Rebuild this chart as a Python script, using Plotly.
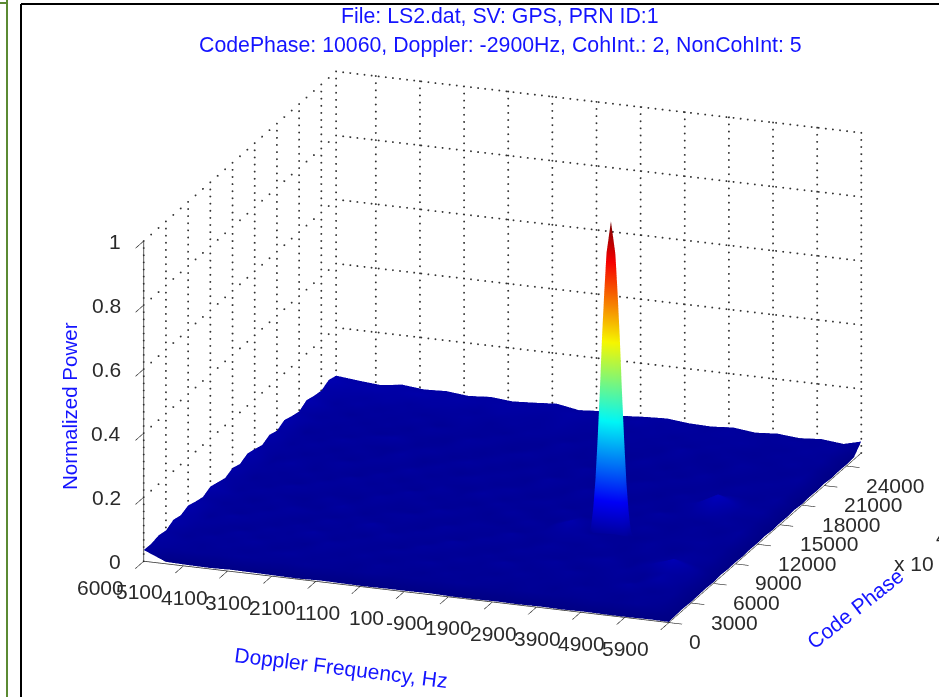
import numpy as np
import plotly.graph_objects as go

doppler_ticks = [6000, 5100, 4100, 3100, 2100, 1100, 100, -900, -1900, -2900, -3900, -4900, -5900]
doppler_labels = ["6000", "5100", "4100", "3100", "2100", "1100", "100", "-900", "1900", "2900", "3900", "4900", "5900"]
code_ticks = [0, 3000, 6000, 9000, 12000, 15000, 18000, 21000, 24000]
power_ticks = [0, 0.2, 0.4, 0.6, 0.8, 1]
power_labels = ["0", "0.2", "0.4", "0.6", "0.8", "1"]

doppler_floor = [6000, 5500, 5000, 4500, 4000, 3500, 3000, 2500, 2000, 1500, 1000, 500, 0,
                 -500, -1000, -1500, -2000, -2500, -3000, -3500, -4000, -4500, -5000, -5500, -5900]
code_floor = [0, 1000, 2000, 3000, 4000, 5000, 6000, 7000, 8000, 9000, 10000, 11000, 12000, 13000,
              14000, 15000, 16000, 17000, 18000, 19000, 20000, 21000, 22000, 23000, 24000, 25000, 26000]
# noise floor, thousandths of normalized power; one row per code_floor value
floor_milli = [
 [35,6,4,3,5,4,3,2,4,3,2,3,3,4,2,2,3,2,3,2,3,2,2,3,2],
 [34,27,25,22,28,24,20,26,21,19,24,18,22,20,25,19,17,23,20,18,22,19,24,17,4],
 [40,30,24,29,22,27,31,23,26,20,28,24,19,27,22,26,21,25,19,28,23,20,26,22,5],
 [35,24,31,26,33,21,25,29,22,30,19,26,31,21,25,20,29,23,27,20,24,36,21,25,3],
 [48,28,22,34,24,29,20,33,27,23,31,25,21,30,24,35,22,26,31,23,28,22,42,24,4],
 [42,33,27,21,31,26,38,22,29,25,20,33,27,23,29,21,27,33,20,26,31,24,38,30,5],
 [52,25,36,29,23,30,24,28,21,34,26,22,36,25,21,31,25,22,29,35,23,37,62,33,3],
 [44,31,23,32,27,21,33,25,39,22,29,27,20,31,27,24,33,26,23,27,21,30,36,22,6],
 [38,26,29,24,35,28,22,30,24,27,21,33,26,23,36,22,28,24,31,22,29,25,31,27,4],
 [50,34,22,31,25,23,37,21,29,33,25,22,30,27,21,29,36,35,26,24,31,21,27,24,5],
 [43,27,33,26,21,32,26,28,23,21,35,27,24,20,33,26,52,22,28,21,26,28,30,22,3],
 [36,30,25,35,29,24,21,34,26,30,22,29,21,34,25,22,37,30,23,33,24,27,26,28,5],
 [47,24,28,22,33,27,30,23,36,24,27,21,32,26,23,34,24,21,29,26,22,29,21,31,4],
 [39,32,26,31,23,35,25,29,21,33,25,36,23,28,31,22,28,33,24,37,27,23,30,24,6],
 [51,28,37,24,28,21,33,22,30,26,22,28,33,21,26,29,23,26,30,22,31,48,27,21,3],
 [45,25,30,27,34,26,23,36,24,28,33,23,25,30,22,36,25,22,27,25,37,72,34,29,5],
 [37,33,24,29,22,31,28,25,32,21,27,30,21,35,27,24,31,28,21,31,26,44,28,25,4],
 [49,27,34,23,30,25,36,21,27,35,24,26,31,22,29,21,26,33,25,23,29,27,22,30,6],
 [41,31,26,36,27,22,29,33,23,26,31,22,28,25,34,27,22,24,30,27,24,31,26,23,3],
 [54,24,29,25,33,38,24,27,30,22,28,34,24,29,21,30,25,28,22,33,21,26,29,25,5],
 [46,35,27,31,23,28,26,22,35,29,21,27,30,23,27,24,33,21,29,24,28,23,25,31,4],
 [40,29,33,26,30,24,34,28,25,31,26,23,35,26,31,22,27,30,25,21,32,26,22,27,6],
 [55,37,25,32,28,35,23,30,27,24,33,29,24,31,25,28,23,36,22,29,26,24,30,23,3],
 [48,31,38,29,34,27,31,36,26,33,29,35,28,24,33,27,30,25,31,26,23,29,26,28,5],
 [44,40,35,41,33,38,36,30,37,34,31,38,30,35,28,33,26,31,28,33,27,25,31,24,4],
 [57,46,49,42,47,41,44,37,43,39,35,41,37,33,39,31,36,29,34,30,28,32,27,33,6],
 [50,43,37,46,39,42,35,40,34,38,43,31,36,29,34,37,30,28,33,25,30,24,29,22,36],
]
# correlation peak at Doppler -2900 Hz, code phase 10060
peak_doppler = [-2400, -2450, -2500, -2550, -2600, -2650, -2700, -2750, -2800, -2850, -2900,
                -2950, -3000, -3050, -3100, -3150, -3200, -3250, -3300, -3350, -3400]
peak_code = [9900, 9980, 10060, 10140, 10220]
peak_power = [
 [0.01,0.01,0.01,0.01,0.01,0.01,0.01,0.01,0.01,0.01,0.01,0.01,0.01,0.01,0.01,0.01,0.01,0.01,0.01,0.01,0.01],
 [0.01,0.02,0.05,0.09,0.16,0.23,0.32,0.39,0.45,0.48,0.50,0.48,0.45,0.39,0.32,0.23,0.16,0.09,0.05,0.02,0.01],
 [0.02,0.04,0.10,0.19,0.32,0.47,0.64,0.78,0.90,0.95,1.00,0.95,0.90,0.78,0.64,0.47,0.32,0.19,0.10,0.04,0.02],
 [0.01,0.02,0.05,0.09,0.16,0.23,0.32,0.39,0.45,0.48,0.50,0.48,0.45,0.39,0.32,0.23,0.16,0.09,0.05,0.02,0.01],
 [0.01,0.01,0.01,0.01,0.01,0.01,0.01,0.01,0.01,0.01,0.01,0.01,0.01,0.01,0.01,0.01,0.01,0.01,0.01,0.01,0.01],
]
jet_scale = [[0, "rgb(0,0,143)"], [0.125, "rgb(0,0,255)"], [0.375, "rgb(0,255,255)"],
             [0.625, "rgb(255,255,0)"], [0.875, "rgb(255,0,0)"], [1, "rgb(128,0,0)"]]
x_lo, x_hi = 6000, -5900
y_lo, y_hi = 0, 26000
z_lo, z_hi = 0, 1
BLUE = "#1414ff"
INK = "#2a2a2a"
FONT = "Liberation Sans"

light = dict(ambient=0.92, diffuse=0.22, specular=0.0, roughness=1.0, fresnel=0.0)
fig = go.Figure()
fig.add_trace(go.Surface(x=doppler_floor, y=code_floor, z=[[v / 1000 for v in r] for r in floor_milli],
                         colorscale=jet_scale, cmin=0, cmax=1, showscale=False, lighting=light,
                         hoverinfo="skip"))
fig.add_trace(go.Surface(x=peak_doppler, y=peak_code, z=peak_power,
                         colorscale=jet_scale, cmin=0, cmax=1, showscale=False, lighting=light,
                         hoverinfo="skip"))

def dotted(start, end, n):
    xs, ys, zs = (np.linspace(a, b, n).tolist() for a, b in zip(start, end))
    fig.add_trace(go.Scatter3d(x=xs, y=ys, z=zs, mode="markers", hoverinfo="skip", showlegend=False,
                               marker=dict(color="#333333", size=1.1, line=dict(width=0))))

for v in doppler_ticks:
    dotted((v, y_hi, z_lo), (v, y_hi, z_hi), 46)
for v in code_ticks + [y_hi]:
    dotted((x_lo, v, z_lo), (x_lo, v, z_hi), 46)
for v in power_ticks[1:]:
    dotted((x_lo, y_lo, v), (x_lo, y_hi, v), 27)
    dotted((x_lo, y_hi, v), (x_hi, y_hi, v), 75)

def axis(vals, rng, tick_len):
    return dict(title=dict(text=""), tickmode="array", tickvals=vals, ticktext=[""] * len(vals), range=rng,
                showticklabels=False, ticks="outside", ticklen=tick_len,
                tickcolor="#111111", tickwidth=1.5, showgrid=False, zeroline=False, showbackground=False,
                showline=True, linecolor=INK, linewidth=1.5, showspikes=False)

tick_font = dict(family=FONT, size=21, color=INK)
scene_notes = []
for v, t in zip(doppler_ticks, doppler_labels):
    scene_notes.append(dict(x=v, y=y_lo, z=z_lo, text=t, showarrow=False, xanchor="right", yanchor="middle",
                            xshift=-18, yshift=-26, font=tick_font))
for v in code_ticks:
    scene_notes.append(dict(x=x_hi, y=v, z=z_lo, text=str(v), showarrow=False, xanchor="left", yanchor="middle",
                            xshift=18, yshift=-19, font=tick_font))
for v, t in zip(power_ticks, power_labels):
    scene_notes.append(dict(x=x_lo, y=y_lo, z=v, text=t, showarrow=False, xanchor="right", yanchor="middle",
                            xshift=-21, yshift=0, font=tick_font))

def paper_text(text, px, py, size, color, angle=0, xanchor="center"):
    return dict(text=text, x=px / 939, y=1 - py / 697, xref="paper", yref="paper", showarrow=False,
                textangle=angle, xanchor=xanchor, yanchor="middle", font=dict(family=FONT, size=size, color=color))

fig.update_layout(
    width=939, height=697, margin=dict(l=0, r=0, t=0, b=0), paper_bgcolor="white",
    showlegend=False,
    scene=dict(
        domain=dict(x=[66 / 939, 1], y=[5 / 697, 1 - 2 / 697]),
        aspectmode="manual", aspectratio=dict(x=1.62, y=1.63, z=0.98),
        camera=dict(eye=dict(x=0.324, y=-0.890, z=0.321), up=dict(x=0, y=0, z=1),
                    center=dict(x=0, y=0, z=0), projection=dict(type="orthographic")),
        xaxis=axis(doppler_ticks, [x_lo, x_hi], 14),
        yaxis=axis(code_ticks, [y_lo, y_hi], 24),
        zaxis=axis(power_ticks, [z_lo, z_hi], 60),
        annotations=scene_notes,
    ),
    annotations=[
        paper_text("File: LS2.dat, SV: GPS, PRN ID:1", 500, 16, 21.3, BLUE),
        paper_text("CodePhase: 10060, Doppler: -2900Hz, CohInt.: 2, NonCohInt: 5", 500, 45, 21.3, BLUE),
        paper_text("Doppler Frequency, Hz", 341, 667, 21, BLUE, 7),
        paper_text("Code Phase", 855, 608, 21, BLUE, -38),
        paper_text("Normalized Power", 69, 406, 20.5, BLUE, -90),
        paper_text("x 10", 914, 563, 21, INK),
        paper_text("4", 934, 537, 20, INK, 0, "left"),
    ],
    shapes=[
        dict(type="line", xref="paper", yref="paper", x0=7 / 939, x1=7 / 939, y0=0, y1=1, line=dict(color="#5b8a33", width=2)),
        dict(type="line", xref="paper", yref="paper", x0=0, x1=7 / 939, y0=1 - 3 / 697, y1=1 - 3 / 697, line=dict(color="#5b8a33", width=2)),
        dict(type="line", xref="paper", yref="paper", x0=21 / 939, x1=21 / 939, y0=0, y1=1 - 4 / 697, line=dict(color="black", width=2)),
        dict(type="line", xref="paper", yref="paper", x0=21 / 939, x1=1, y0=1 - 4 / 697, y1=1 - 4 / 697, line=dict(color="black", width=2)),
    ],
)
fig.write_html("out.html", config=dict(displayModeBar=False), post_script="document.body.style.margin='0';")
